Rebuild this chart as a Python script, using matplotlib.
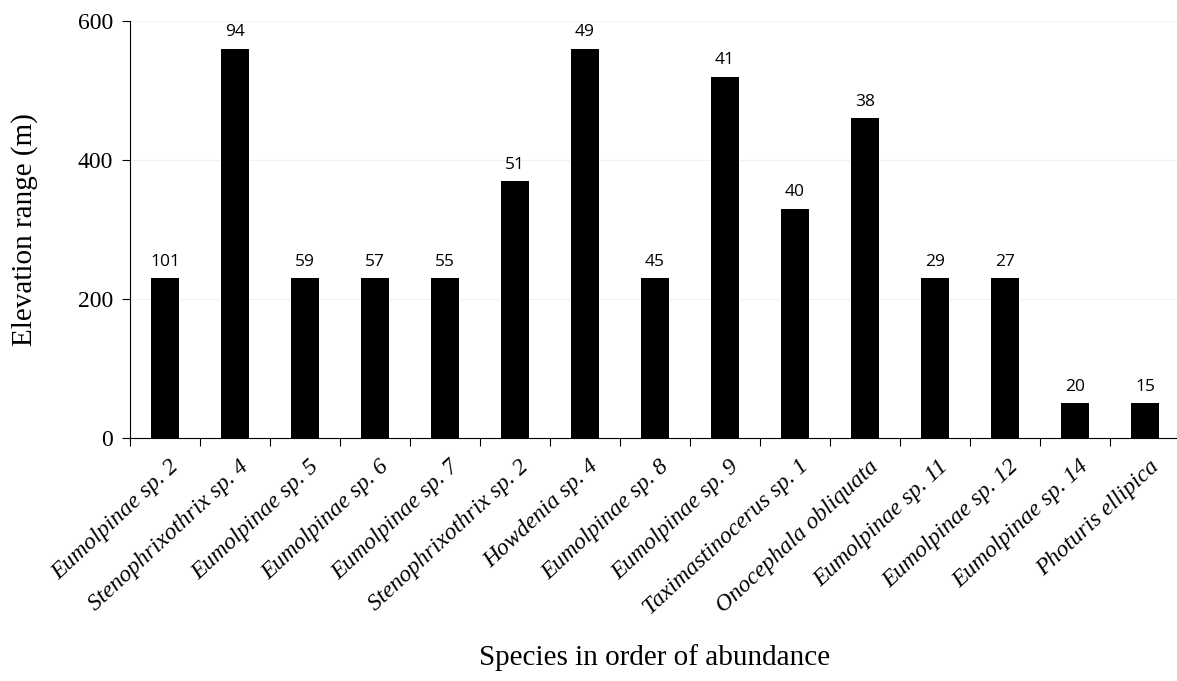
import numpy as np
import matplotlib.pyplot as plt

species = ["Eumolpinae sp. 2", "Stenophrixothrix sp. 4", "Eumolpinae sp. 5",
           "Eumolpinae sp. 6", "Eumolpinae sp. 7", "Stenophrixothrix sp. 2",
           "Howdenia sp. 4", "Eumolpinae sp. 8", "Eumolpinae sp. 9",
           "Taximastinocerus sp. 1", "Onocephala obliquata", "Eumolpinae sp. 11",
           "Eumolpinae sp. 12", "Eumolpinae sp. 14", "Photuris ellipica"]
elev_range = [230, 560, 230, 230, 230, 370, 560, 230, 520, 330, 460, 230, 230, 50, 50]
abundance = [101, 94, 59, 57, 55, 51, 49, 45, 41, 40, 38, 29, 27, 20, 15]

fig = plt.figure(figsize=(11.77, 6.81), dpi=100)
ax = fig.add_axes([130/1177, 1 - 438/681, 1050/1177, 417/681])

x = np.arange(len(species))
ax.bar(x, elev_range, width=0.39, color="black")
for xi, h, n in zip(x, elev_range, abundance):
    ax.text(xi, h + 12, str(n), ha="center", va="bottom", fontsize=12.5,
            family="Open Sans")

ax.set_xlim(-0.5, len(species) - 0.5)
ax.set_ylim(0, 600)
ax.set_yticks([0, 200, 400, 600])
ax.set_yticklabels(["0", "200", "400", "600"], family="Liberation Serif", fontsize=17)
ax.grid(axis="y", color="#f2f2f2", linewidth=0.8)
ax.set_axisbelow(True)

# ticks at category boundaries, labels at centres
ax.set_xticks(np.arange(len(species) + 1) - 0.5)
ax.set_xticklabels([])
ax.set_xticks(x + 0.05, minor=True)
ax.set_xticklabels(species, minor=True, rotation=43, ha="right",
                   rotation_mode="anchor", family="Liberation Serif",
                   style="italic", fontsize=17)
ax.tick_params(axis="x", which="minor", length=0, pad=13)
ax.tick_params(axis="x", which="major", length=6, direction="out")
ax.tick_params(axis="y", length=6, direction="out", pad=6)

for s in ["top", "right"]:
    ax.spines[s].set_visible(False)

ax.set_ylabel("Elevation range (m)", family="Liberation Serif", fontsize=21,
              labelpad=29)
ax.set_xlabel("Species in order of abundance", family="Liberation Serif",
              fontsize=21, labelpad=18)

fig.savefig("out.png", dpi=100)
